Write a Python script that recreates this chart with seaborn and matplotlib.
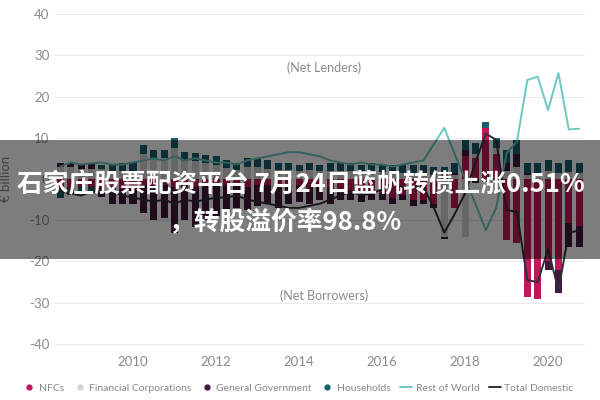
import matplotlib
matplotlib.use("Agg")
import matplotlib.pyplot as plt
import seaborn as sns
import numpy as np
import pandas as pd
from matplotlib.lines import Line2D
from matplotlib.patches import Rectangle

# ---------------- data (EUR billion, quarterly 2008Q2 - 2020Q4) ----------------
quarters = [f"{y}Q{q}" for y in range(2008, 2021) for q in range(1, 5)][1:]

nfc = [-2.5, -2.5, -2, -2, -2, -2, -2.5, -2.5,
       -1.5, -2, -1.5, -2, -1.5, -2, -1.5, -1.5, -1.5, -1.5, -2, -1.5, -1.5, -2, -1.5, -1.5, -2, -1.5, -2,
       -2.5, -3, -3, -3, -3.5, -4.5, -4, -5, -5, -6,
       1, -7, 5.5, 5, 12.3, 6, -14.8, -15.5, -28.6, -29, -20, -22, -10.7, -11.5]
fin = [3, 3, 2.5, 2.5, 2.5, 2, 2, 2,
       6, 5, 5, 7.5, 4.5, 4.3, 3.8, 3.5, 2.7, 2.2, 3, 3, 2.5, 2.2, 2.2, 1.9, 2.2, 1.9, 2,
       2, 2, 1.7, 2, 1.7, 1.5, 1.5, 1.5, 1.5, 1,
       -14, 1, -14, 1, -0.5, 1.5, 2, 3, 1, 1, 2, 1.5, 1.6, 1.5]
gov = [0.8, 1, 1.2, 1.5, -2.4, -4, -3.5, -3.5,
       -6.8, -8, -8, -11, -8.5, -9.6, -8.5, -7.5, -6.5, -5.5, -5.5, -5, -4.5, -5, -4.5, -4, -4, -3.5, -4,
       -2.5, -2, -2.5, -2, -1.5, -1.5, -1, -1.5, -1, -1,
       -0.5, 0.5, 1.5, -1, -0.3, -0.5, 2, 3, 0.5, 0.5, -2, -5.7, -5.8, -5]
hh = [-2, -1.5, -1.5, -1, 1, 1.5, 2, 2.2,
      2.3, 2, 2, 2.5, 2, 2, 2, 2, 1.8, 1.8, 2, 2, 2, 1.8, 1.8, 1.6, 1.8, 1.6, 1.8,
      2, 2, 1.8, 2, 1.8, 2, 2, 2, 2, 2,
      2, 2.5, 2.5, 2.7, 1.5, 2.5, 3, 3.5, 2.5, 2.5, 2.6, 2.5, 3, 2.5]
rest_of_world = [3, 4, 3.5, 3.8, 4, 3.5, 3.5, 4,
                 4.5, 5, 4.5, 5.5, 4.5, 5, 4.5, 4, 4, 3.5, 4.5, 5, 5.5, 6, 6.5, 6.5, 6, 5.5, 4.5,
                 4, 3.5, 4, 3.5, 3.5, 3, 3.5, 4, 4.5, 8.5,
                 12.4, 6, 0, -6, -12.4, -7, 6.3, 9, 24, 24.8, 16.7, 25.7, 12, 12.2]
total_domestic = [-3, -3.5, -4, -3, -3.5, -3, -4, -4.5,
                  -5, -5.5, -5, -6, -5, -5.5, -5, -4.5, -4.5, -4, -5, -5.5, -6, -6.5, -7, -7, -6.5, -6, -5,
                  -4, -3, -4, -3.5, -2.5, -1, -2, -2, -2, -7,
                  -13, -8.5, -3.5, 4, 11, 9.5, -7.5, -8, -24.5, -25, -17, -27, -13, -12.5]

sector_names = ["NFCs", "Financial Corporations", "General Government", "Households"]
sector_colors = ["#c0185a", "#d3d3d3", "#43173d", "#175f6e"]
row_color = "#6cc9c0"
tot_color = "#2f2f3a"

# time position of each quarter (decimal year)
t = np.array([int(q[:4]) + (int(q[-1]) - 1) / 4 for q in quarters])

df = pd.DataFrame({"t": t, "NFCs": nfc, "Financial Corporations": fin,
                   "General Government": gov, "Households": hh,
                   "Rest of World": rest_of_world, "Total Domestic": total_domestic})

# ---------------- style ----------------
sns.set_style("white")
plt.rcParams["font.family"] = ["Lato", "DejaVu Sans"]
plt.rcParams["axes.unicode_minus"] = False

fig = plt.figure(figsize=(6, 4), dpi=100)
ax = fig.add_axes([55 / 600, 1 - 348.1 / 400, 530 / 600, (348.1 - 9.9) / 400])

grey = "#8a8a8a"
ax.set_ylim(-41, 41)
ax.set_xlim(2008.12, 2020.89)
ax.set_yticks(range(-40, 41, 10))
ax.set_xticks(range(2010, 2021, 2))
ax.yaxis.grid(True, color="#ececec", linewidth=0.8)
ax.xaxis.grid(False)
for s in ax.spines.values():
    s.set_visible(False)
ax.tick_params(axis="both", length=0, labelsize=9.5, labelcolor=grey)
ax.tick_params(axis="y", pad=4)
ax.tick_params(axis="x", pad=6)
ax.set_axisbelow(True)

# stacked positive / negative bars
pos_bottom = np.zeros(len(t))
neg_bottom = np.zeros(len(t))
for name, col in zip(sector_names, sector_colors):
    v = df[name].to_numpy(dtype=float)
    pos = np.clip(v, 0, None)
    neg = np.clip(v, None, 0)
    ax.bar(df["t"], pos, bottom=pos_bottom, width=0.17, color=col, linewidth=0, zorder=2)
    ax.bar(df["t"], neg, bottom=neg_bottom, width=0.17, color=col, linewidth=0, zorder=2)
    pos_bottom += pos
    neg_bottom += neg

sns.lineplot(data=df, x="t", y="Rest of World", ax=ax, color=row_color, linewidth=1.4, zorder=3)
sns.lineplot(data=df, x="t", y="Total Domestic", ax=ax, color=tot_color, linewidth=1.4, zorder=3)

ax.set_xlabel("")
ax.set_ylabel("€ billion", color=grey, fontsize=9.5, labelpad=12)

ax.text(2014.6, 27, "(Net Lenders)", color=grey, fontsize=9, ha="center", va="center")
ax.text(2014.6, -28.2, "(Net Borrowers)", color=grey, fontsize=9, ha="center", va="center")

# legend
handles = [Line2D([], [], marker="o", linestyle="none", color=c, markersize=3.5) for c in sector_colors]
handles += [Line2D([], [], color=row_color, linewidth=1.4), Line2D([], [], color=tot_color, linewidth=1.4)]
labels = sector_names + ["Rest of World", "Total Domestic"]
leg = fig.legend(handles, labels, loc="center", bbox_to_anchor=(0.497, 1 - 388 / 400), ncol=6,
                 frameon=False, fontsize=7.5, handlelength=1.2, handletextpad=0.3,
                 columnspacing=0.9, labelcolor=grey)

# banner overlay
fig.patches.append(Rectangle((0, 1 - 259 / 400), 1, 119 / 400, transform=fig.transFigure,
                             facecolor="black", alpha=0.51, zorder=10, linewidth=0))
fig.text(0.502, 1 - 185 / 400, "石家庄股票配资平台 7月24日蓝帆转债上涨0.51%", color="white",
         fontsize=18.5, fontweight="bold", ha="center", va="center", zorder=11,
         family=["Noto Sans CJK SC", "DejaVu Sans"])
fig.text(0.475, 1 - 222 / 400, "，转股溢价率98.8%", color="white",
         fontsize=18.5, fontweight="bold", ha="center", va="center", zorder=11,
         family=["Noto Sans CJK SC", "DejaVu Sans"])

fig.savefig("out.png", dpi=100)
